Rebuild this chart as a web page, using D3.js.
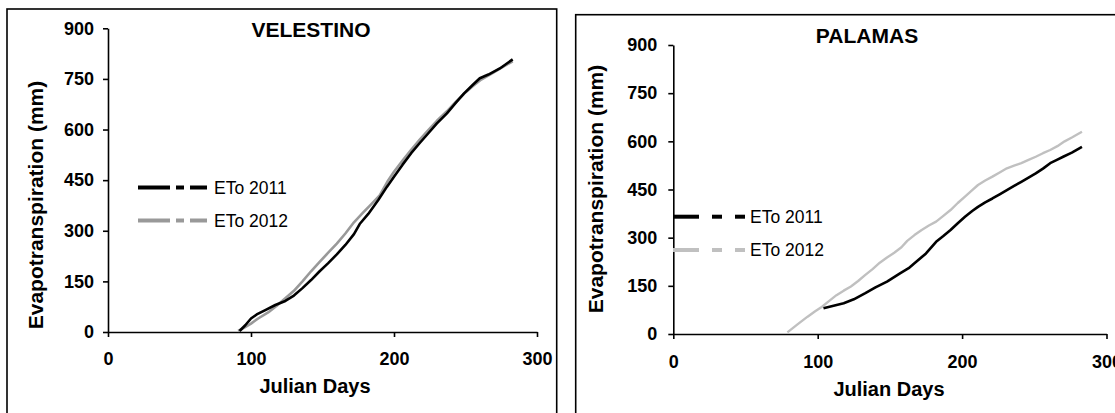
<!DOCTYPE html>
<html><head><meta charset="utf-8">
<script src="https://cdn.jsdelivr.net/npm/d3@7/dist/d3.min.js"></script>
<style>
body{margin:0;background:#fff;}
svg{display:block;font-family:"Liberation Sans",Arial,sans-serif;}
</style></head>
<body><svg id="c" width="1115" height="413"></svg>
<script>
// ---- data ----
const yTicks = [0,150,300,450,600,750,900];
const xTicks = [0,100,200,300];
const seriesNames = ["ETo 2011","ETo 2012"];

const velDays2011 = [92,96,100,104,110,117,124,130,136,142,148,154,160,166,172,176,182,189,195,200,206,212,218,224,230,237,243,249,255,260,266,274,283];
const velEto2011  = [3,20,40,52,65,80,92,108,130,154,180,204,230,258,290,320,350,391,430,460,496,530,560,589,618,648,678,707,732,752,763,781,808];
const velDays2012 = [91,95,100,105,112,118,124,130,136,142,148,154,160,166,172,178,184,190,196,200,206,212,218,224,230,237,243,249,255,261,268,275,283];
const velEto2012  = [3,12,25,40,58,78,100,122,150,180,208,235,262,292,325,352,378,405,450,475,508,540,570,598,626,654,681,706,728,748,765,783,802];

const palDays2011 = [104,111,118,125,133,140,148,157,163,167,175,182,187,192,197,202,207,211,216,221,226,231,236,241,246,251,256,261,266,270,276,283];
const palEto2011  = [80,88,96,108,127,145,163,189,205,220,251,287,305,324,345,365,383,396,410,422,435,448,461,474,487,500,515,532,543,552,565,583];
const palDays2012 = [79,86,93,98,103,108,113,118,123,128,133,138,143,148,153,158,162,167,172,177,182,187,192,197,202,207,211,216,221,226,231,236,241,246,251,256,261,266,271,276,283];
const palEto2012  = [5,30,54,70,85,103,121,135,148,165,184,202,222,238,253,270,290,308,324,338,350,368,386,408,428,448,464,478,490,503,516,524,532,542,552,563,573,585,600,612,630];

// ---- drawing ----
const svg = d3.select("#c");
const font = "\"Liberation Sans\",Arial,sans-serif";

const panels = [
  {title:"VELESTINO", box:[7,9,549.7,430], xr:[108,537], yr:[332,28.3], labPadY:9, xBase:365,
   titleX:311, titleY:37, xTitleY:393, xTitleX:315, yTitleX:36, yTitleY:205,
   series:[{d:velDays2011,v:velEto2011,c:"#000",w:2.6},{d:velDays2012,v:velEto2012,c:"#999999",w:2.6}],
   legend:{x0:138,segs:[[0,32],[38,46],[52,69]],ys:[187.5,220.5],tx:214}},
  {title:"PALAMAS", box:[575.7,14.7,560,430], xr:[673.3,1106.5], yr:[334,45], labPadY:11, xBase:368,
   titleX:867, titleY:43, xTitleY:396, xTitleX:889, yTitleX:596, yTitleY:189,
   series:[{d:palDays2011,v:palEto2011,c:"#000",w:2.6},{d:palDays2012,v:palEto2012,c:"#c0c0c0",w:2.4}],
   legend:{x0:673,segs:[[0,26],[39,49],[62,72]],ys:[216.7,250],tx:750}}
];

panels.forEach(p=>{
  const g = svg.append("g");
  g.append("rect").attr("x",p.box[0]).attr("y",p.box[1]).attr("width",p.box[2]).attr("height",p.box[3])
    .attr("fill","none").attr("stroke","#000").attr("stroke-width",1.6);
  const x = d3.scaleLinear().domain([0,300]).range(p.xr);
  const y = d3.scaleLinear().domain([0,900]).range(p.yr);

  const ya = d3.axisLeft(y).tickValues(yTicks).tickSize(5).tickSizeOuter(0).tickPadding(p.labPadY);
  const yg = g.append("g").attr("transform",`translate(${p.xr[0]},0)`).call(ya);
  const xa = d3.axisBottom(x).tickValues(xTicks).tickSize(5).tickSizeOuter(0).tickPadding(0);
  const xg = g.append("g").attr("transform",`translate(0,${p.yr[0]})`).call(xa);
  [yg,xg].forEach(a=>{
    a.select(".domain").attr("stroke","#000").attr("stroke-width",1.6);
    a.selectAll(".tick line").attr("stroke","#000").attr("stroke-width",1.6);
    a.selectAll(".tick text").attr("fill","#000").style("font-family",font)
      .style("font-size","18px").style("font-weight","bold");
  });
  xg.selectAll(".tick text").attr("y",p.xBase-p.yr[0]).attr("dy",0);

  const line = d3.line().x(d=>x(d[0])).y(d=>y(d[1]));
  p.series.slice().reverse().forEach(s=>{
    const pts = s.d.map((d,i)=>[d,s.v[i]]);
    g.append("path").datum(pts).attr("d",line).attr("fill","none")
      .attr("stroke",s.c).attr("stroke-width",s.w).attr("stroke-linejoin","round");
  });

  // titles
  g.append("text").attr("x",p.titleX).attr("y",p.titleY).attr("text-anchor","middle")
    .style("font-family",font).style("font-size","21px").style("font-weight","bold").text(p.title);
  g.append("text").attr("x",p.xTitleX).attr("y",p.xTitleY).attr("text-anchor","middle")
    .style("font-family",font).style("font-size","20px").style("font-weight","bold").text("Julian Days");
  g.append("text").attr("transform",`translate(${p.yTitleX},${p.yTitleY}) rotate(-90)`)
    .attr("text-anchor","middle").attr("dy","0.35em")
    .style("font-family",font).style("font-size","21px").style("font-weight","bold").text("Evapotranspiration (mm)");

  // legend
  p.series.forEach((s,i)=>{
    const ly = p.legend.ys[i];
    p.legend.segs.forEach(sg=>{
      g.append("line").attr("x1",p.legend.x0+sg[0]).attr("x2",p.legend.x0+sg[1])
        .attr("y1",ly).attr("y2",ly).attr("stroke",s.c).attr("stroke-width",4);
    });
    g.append("text").attr("x",p.legend.tx).attr("y",ly).attr("dy","0.35em")
      .style("font-family",font).style("font-size","17.5px").text(seriesNames[i]);
  });
});
</script></body></html>
